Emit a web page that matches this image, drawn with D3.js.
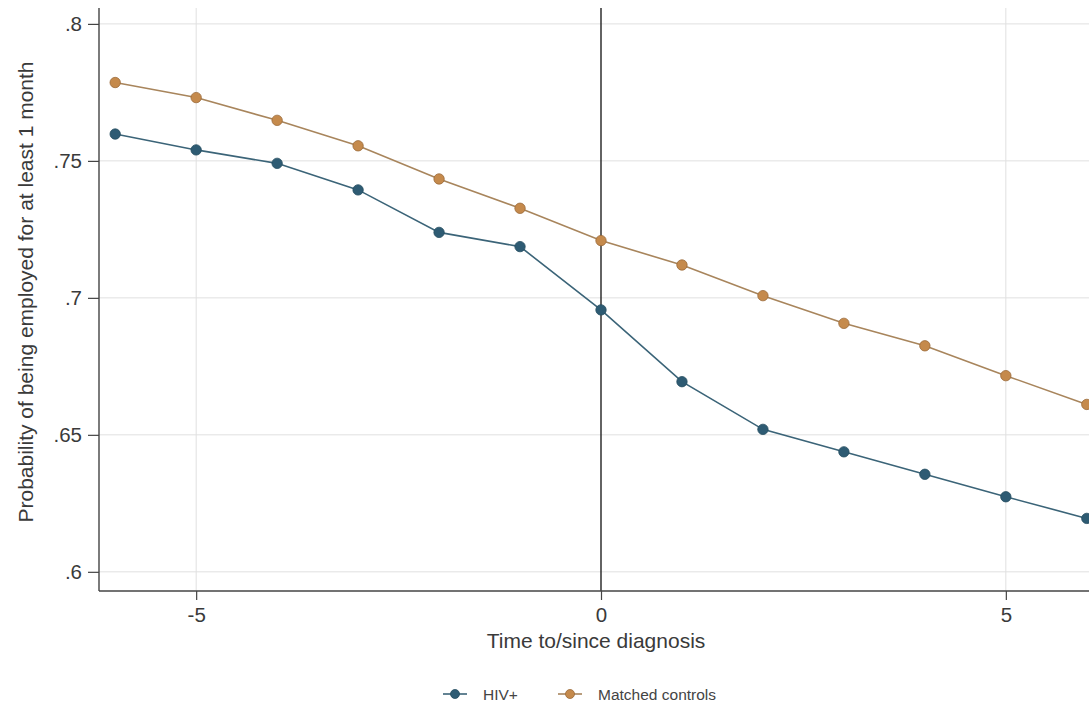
<!DOCTYPE html>
<html>
<head>
<meta charset="utf-8">
<script src="https://cdn.jsdelivr.net/npm/d3@7"></script>
<style>
html,body{margin:0;padding:0;background:#fff;overflow:hidden;}
svg{display:block;font-family:"Liberation Sans",Arial,sans-serif;}
</style>
</head>
<body>
<svg id="chart" width="1089" height="707"></svg>
<script>
const years = [-6,-5,-4,-3,-2,-1,0,1,2,3,4,5,6];
const hivValues = [0.7598,0.7540,0.7491,0.7394,0.7239,0.7187,0.6956,0.6694,0.6520,0.6438,0.6356,0.6274,0.6195];
const controlValues = [0.7786,0.7731,0.7648,0.7555,0.7434,0.7327,0.7209,0.7120,0.7008,0.6907,0.6825,0.6716,0.6611];
const xTicks = [-5,0,5];
const xTickLabels = ["-5","0","5"];
const yTicks = [0.6,0.65,0.7,0.75,0.8];
const yTickLabels = [".6",".65",".7",".75",".8"];
const seriesNames = ["HIV+","Matched controls"];

const svg = d3.select("#chart");
const pLeft = 99, pTop = 8, pBottom = 591, pRight = 1103;

const x = d3.scaleLinear().domain([-6.2, 6.2]).range([pLeft, pRight]);
const y = d3.scaleLinear().domain([0.5930, 0.8058]).range([pBottom, pTop]);

// gridlines
const grid = svg.append("g");
grid.selectAll("line.h").data(yTicks).enter().append("line")
  .attr("x1", pLeft).attr("x2", pRight)
  .attr("y1", d => y(d)).attr("y2", d => y(d))
  .attr("stroke", "#e0e0e0").attr("stroke-width", 1);
grid.selectAll("line.v").data(xTicks.filter(d => d !== 0)).enter().append("line")
  .attr("y1", pTop).attr("y2", pBottom)
  .attr("x1", d => x(d)).attr("x2", d => x(d))
  .attr("stroke", "#e0e0e0").attr("stroke-width", 1);

// vertical reference line at 0
svg.append("line")
  .attr("x1", x(0)).attr("x2", x(0)).attr("y1", pTop).attr("y2", pBottom)
  .attr("stroke", "#222").attr("stroke-width", 1.4);

// axes
const yAxis = d3.axisLeft(y).tickValues(yTicks)
  .tickFormat((d,i) => yTickLabels[i]).tickSize(11).tickPadding(6);
const gy = svg.append("g").attr("transform", `translate(${pLeft},0)`).call(yAxis);
const xAxis = d3.axisBottom(x).tickValues(xTicks)
  .tickFormat((d,i) => xTickLabels[i]).tickSize(9).tickPadding(7);
const gx = svg.append("g").attr("transform", `translate(0,${pBottom})`).call(xAxis);
[gx, gy].forEach(g => {
  g.attr("font-size", 20.5).attr("font-family", "'Liberation Sans',Arial,sans-serif");
  g.select(".domain").attr("stroke", "#444").attr("stroke-width", 1.4);
  g.selectAll(".tick line").attr("stroke", "#444").attr("stroke-width", 1.2);
  g.selectAll(".tick text").attr("fill", "#3a3a3a");
});
gx.select(".domain").attr("d", `M${pLeft},0H${pRight}`);
gy.select(".domain").attr("d", `M0,${pBottom}V${pTop}`);

// series
const series = [
  {name: seriesNames[0], values: hivValues, line: "#3b6478", fill: "#2e5b73", stroke: "#254c60"},
  {name: seriesNames[1], values: controlValues, line: "#a8855c", fill: "#c58a4c", stroke: "#9a6a38"}
];
const line = d3.line().x((d,i) => x(years[i])).y(d => y(d));
series.forEach(s => {
  svg.append("path").datum(s.values).attr("d", line)
    .attr("fill", "none").attr("stroke", s.line).attr("stroke-width", 1.6);
  svg.selectAll(null).data(s.values).enter().append("circle")
    .attr("cx", (d,i) => x(years[i])).attr("cy", d => y(d)).attr("r", 5.2)
    .attr("fill", s.fill).attr("stroke", s.stroke).attr("stroke-width", 0.8);
});

// axis titles
svg.append("text").attr("x", 596).attr("y", 648).attr("text-anchor", "middle")
  .attr("fill", "#3a3a3a").style("font-size", "21px").text("Time to/since diagnosis");
svg.append("text").attr("transform", `translate(33,292) rotate(-90)`)
  .attr("text-anchor", "middle").attr("fill", "#3a3a3a").style("font-size", "21px")
  .text("Probability of being employed for at least 1 month");

// legend
const legendX = [443, 558];
const legendTextX = [483, 598];
series.forEach((s, i) => {
  const g = svg.append("g");
  g.append("line").attr("x1", legendX[i]).attr("x2", legendX[i] + 24)
    .attr("y1", 694).attr("y2", 694).attr("stroke", s.line).attr("stroke-width", 1.6);
  g.append("circle").attr("cx", legendX[i] + 12).attr("cy", 694).attr("r", 4.5)
    .attr("fill", s.fill).attr("stroke", s.stroke).attr("stroke-width", 0.8);
  g.append("text").attr("x", legendTextX[i]).attr("y", 700)
    .attr("fill", "#444").style("font-size", "15.5px").text(s.name);
});
</script>
</body>
</html>
